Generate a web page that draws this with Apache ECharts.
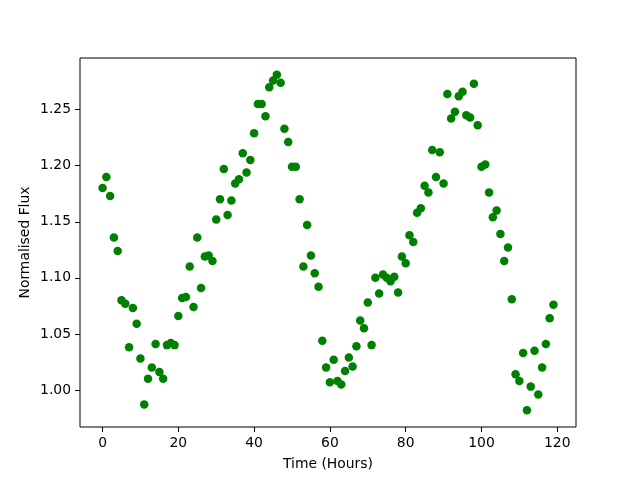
<!DOCTYPE html>
<html>
<head>
<meta charset="utf-8">
<script src="https://cdn.jsdelivr.net/npm/echarts@6/dist/echarts.min.js"></script>
<style>html,body{margin:0;padding:0;background:#fff}#c{width:640px;height:480px}</style>
</head>
<body>
<div id="c"></div>
<script>
const hours = [];
for (let i = 0; i < 120; i++) hours.push(i);
const flux = [
1.180,1.190,1.173,1.136,1.124,1.080,1.077,1.038,1.073,1.059,
1.028,0.987,1.010,1.020,1.041,1.016,1.010,1.040,1.042,1.040,
1.066,1.082,1.083,1.110,1.074,1.136,1.091,1.119,1.120,1.115,
1.152,1.170,1.197,1.156,1.169,1.184,1.188,1.211,1.194,1.205,
1.229,1.255,1.255,1.244,1.270,1.276,1.281,1.274,1.233,1.221,
1.199,1.199,1.170,1.110,1.147,1.120,1.104,1.092,1.044,1.020,
1.007,1.027,1.008,1.005,1.017,1.029,1.021,1.039,1.062,1.055,
1.078,1.040,1.100,1.086,1.103,1.100,1.097,1.101,1.087,1.119,
1.113,1.138,1.132,1.158,1.162,1.182,1.176,1.214,1.190,1.212,
1.184,1.264,1.242,1.248,1.262,1.266,1.245,1.243,1.273,1.236,
1.199,1.201,1.176,1.154,1.160,1.139,1.115,1.127,1.081,1.014,
1.008,1.033,0.982,1.003,1.035,0.996,1.020,1.041,1.064,1.076
];
const xTicks = [0, 20, 40, 60, 80, 100, 120];
const yTicks = [1.00, 1.05, 1.10, 1.15, 1.20, 1.25];

const pts = hours.map((h, i) => [h, flux[i]]);
const font = 'DejaVu Sans';
const chart = echarts.init(document.getElementById('c'), null, {renderer: 'canvas'});
chart.setOption({
  animation: false,
  backgroundColor: '#fff',
  grid: {left: 80, right: 64, top: 58, bottom: 53, show: true, borderColor: '#000', borderWidth: 1, backgroundColor: 'transparent'},
  xAxis: {
    type: 'value', min: -5.95, max: 124.95,
    name: 'Time (Hours)', nameLocation: 'middle', nameGap: 30,
    nameTextStyle: {fontFamily: font, fontSize: 13.9, color: '#000'},
    axisLine: {show: false, onZero: false},
    axisTick: {show: true, inside: false, length: 5, customValues: xTicks, lineStyle: {color: '#000', width: 1}},
    axisLabel: {customValues: xTicks, margin: 9, fontFamily: font, fontSize: 13.9, color: '#000'},
    splitLine: {show: false}
  },
  yAxis: {
    type: 'value', min: 0.967, max: 1.296,
    name: 'Normalised Flux', nameLocation: 'middle', nameGap: 48, nameMoveOverlap: false,
    nameTextStyle: {fontFamily: font, fontSize: 13.9, color: '#000'},
    axisLine: {show: false, onZero: false},
    axisTick: {show: true, inside: false, length: 5, customValues: yTicks, lineStyle: {color: '#000', width: 1}},
    axisLabel: {customValues: yTicks, margin: 9, fontFamily: font, fontSize: 13.9, color: '#000',
      formatter: v => v.toFixed(2)},
    splitLine: {show: false}
  },
  series: [{
    type: 'scatter', data: pts, symbol: 'circle', symbolSize: 8.5,
    itemStyle: {color: '#008000', opacity: 1}
  }]
});
</script>
</body>
</html>
